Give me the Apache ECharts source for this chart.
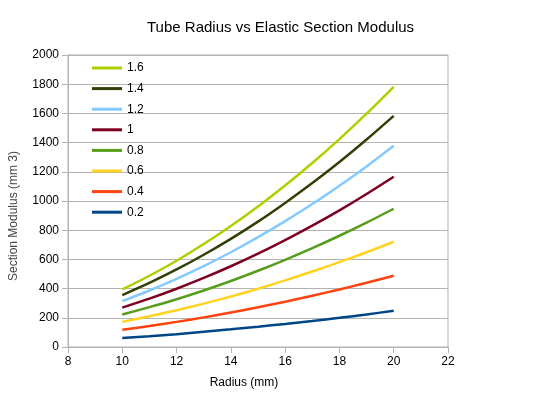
<!DOCTYPE html>
<html>
<head>
<meta charset="utf-8">
<script src="https://cdn.jsdelivr.net/npm/echarts@6/dist/echarts.min.js"></script>
<style>
  html, body { margin: 0; padding: 0; background: #ffffff; }
  #chart { width: 549px; height: 394px; }
</style>
</head>
<body>
<div id="chart"></div>
<script>
const radius = [10, 11, 12, 13, 14, 15, 16, 17, 18, 19, 20];
const seriesNames = ['0.2', '0.4', '0.6', '0.8', '1', '1.2', '1.4', '1.6'];
const s02 = [61, 74, 88, 104, 121, 139, 158, 178, 200, 223, 248];
const s04 = [118, 144, 172, 203, 236, 272, 310, 351, 394, 440, 488];
const s06 = [172, 210, 252, 297, 346, 399, 456, 517, 581, 649, 721];
const s08 = [223, 273, 327, 387, 452, 522, 597, 677, 762, 852, 947];
const s10 = [270, 331, 399, 473, 553, 639, 732, 831, 936, 1048, 1166];
const s12 = [314, 387, 467, 554, 649, 752, 862, 979, 1105, 1237, 1378];
const s14 = [356, 439, 531, 632, 741, 859, 987, 1123, 1267, 1421, 1583];
const s16 = [394, 488, 591, 705, 829, 963, 1106, 1260, 1424, 1598, 1782];
const seriesValues = [s02, s04, s06, s08, s10, s12, s14, s16];
const colors = ['#004586', '#ff420e', '#ffd320', '#579d1c', '#7e0021', '#83caff', '#314004', '#aecf00'];
const xTicks = { min: 8, max: 22, interval: 2 };
const yTicks = { min: 0, max: 2000, interval: 200 };

const font = "'Liberation Sans', Arial, sans-serif";
const gridColor = '#b3b3b3';

const chart = echarts.init(document.getElementById('chart'), null, { renderer: 'canvas' });
chart.setOption({
  animation: false,
  backgroundColor: '#ffffff',
  color: colors,
  title: {
    text: 'Tube Radius vs Elastic Section Modulus',
    left: 147,
    top: 20,
    padding: 0,
    textStyle: { fontFamily: font, fontSize: 15, fontWeight: 'normal', color: '#000000' }
  },
  legend: {
    orient: 'vertical',
    left: 92,
    top: 61,
    padding: 0,
    itemWidth: 30,
    itemHeight: 3,
    itemGap: 6.6,
    itemTextGap: 3,
    icon: 'rect',
    data: seriesNames.slice().reverse(),
    textStyle: { fontFamily: font, fontSize: 12, color: '#000000', lineHeight: 14 }
  },
  grid: {
    left: 63, right: 101, top: 55, bottom: 46,
    show: true, borderColor: gridColor, borderWidth: 1, backgroundColor: 'transparent'
  },
  xAxis: {
    type: 'value',
    min: xTicks.min, max: xTicks.max, interval: xTicks.interval,
    name: 'Radius (mm)',
    nameLocation: 'middle',
    nameGap: 30,
    nameTextStyle: { fontFamily: font, fontSize: 12, color: '#000000', padding: [0, 28, 0, 0] },
    axisLine: { show: true, lineStyle: { color: gridColor, width: 1 } },
    axisTick: { show: true, length: 6, lineStyle: { color: gridColor } },
    axisLabel: { margin: 9, fontFamily: font, fontSize: 12, color: '#000000', formatter: v => String(v) },
    splitLine: { show: false }
  },
  yAxis: {
    type: 'value',
    min: yTicks.min, max: yTicks.max, interval: yTicks.interval,
    name: 'Section Modulus (mm 3)',
    nameLocation: 'middle',
    nameGap: 48,
    nameTextStyle: { fontFamily: font, fontSize: 12, color: '#444444', padding: [0, 30, 0, 0] },
    axisLine: { show: true, lineStyle: { color: gridColor, width: 1 } },
    axisTick: { show: true, length: 6, lineStyle: { color: gridColor } },
    axisLabel: { margin: 9, fontFamily: font, fontSize: 12, color: '#000000', formatter: v => String(v) },
    splitLine: { show: true, lineStyle: { color: gridColor, width: 1 } }
  },
  series: seriesNames.map((name, i) => ({
    name: name,
    type: 'line',
    smooth: 0.3,
    symbol: 'none',
    lineStyle: { width: 2.5, color: colors[i] },
    itemStyle: { color: colors[i] },
    data: radius.map((r, j) => [r, seriesValues[i][j]])
  }))
});
</script>
</body>
</html>
